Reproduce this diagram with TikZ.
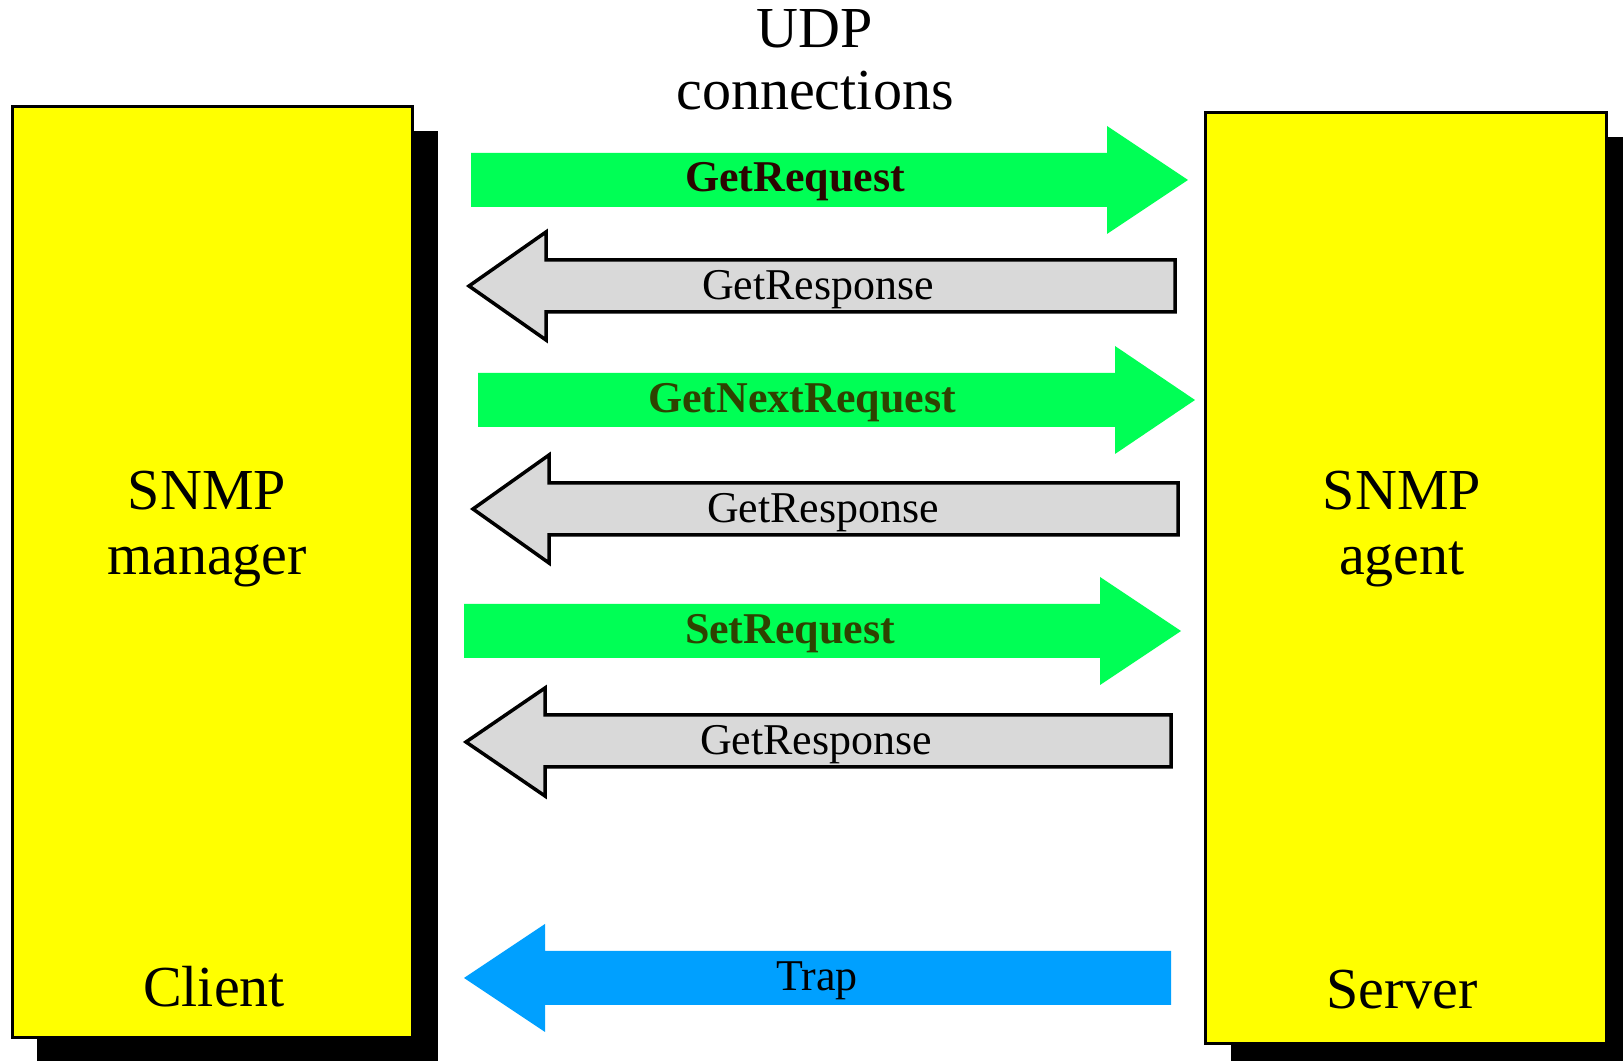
\documentclass[tikz,border=0pt]{standalone}
\usepackage{fontspec}
\setmainfont{Liberation Serif}
\usepackage{xcolor}
\usepackage{tikz}
\usetikzlibrary{positioning,shadows}
\definecolor{hostyellow}{HTML}{FFFF00}
\definecolor{reqgreen}{HTML}{00FF55}
\definecolor{respgray}{HTML}{D9D9D9}
\definecolor{trapblue}{HTML}{00A0FF}
\definecolor{reqtext}{HTML}{2A0500}
\definecolor{nexttext}{HTML}{2E4200}
\tikzstyle{host}=[draw=black, line width=0.03cm, fill=hostyellow, minimum width=4.0cm, minimum height=9.3cm, drop shadow={shadow xshift=0.25cm, shadow yshift=-0.24cm, fill=black, opacity=1}]
\tikzstyle{host text}=[font=\fontsize{16.5}{18.5}\selectfont, align=center]
\tikzstyle{req arrow}=[fill=reqgreen]
\tikzstyle{resp arrow}=[fill=respgray, draw=black, line width=0.035cm, line join=miter]
\tikzstyle{trap arrow}=[fill=trapblue]
\tikzstyle{msg}=[font=\fontsize{12.5}{14}\selectfont, inner sep=0pt, anchor=base]

\begin{document}
\begin{tikzpicture}[x=0.01cm, y=-0.01cm]
    \clip (0,0) rectangle (1623,1061);
    \fill[white] (0,0) rectangle (1623,1061);
    % client and server
    \node[style=host] (manager) at (212.5,572) {};
    \node[style=host] (agent) at (1406,578) {};
    \node[style=host text] (managertext) at (207,529) {SNMP\\manager};
    \node[style=host text, anchor=base] (client) at (214,1007) {Client};
    \node[style=host text] (agenttext) at (1402,529) {SNMP\\agent};
    \node[style=host text, anchor=base] (server) at (1402,1009) {Server};
    \node[style=host text, font=\fontsize{16.5}{17.6}\selectfont] (udp) at (815,60) {UDP\\connections};
    % messages
    \fill[style=req arrow] (471,153) -- (1107,153) -- (1107,126) -- (1188,180) -- (1107,234) -- (1107,207) -- (471,207) -- cycle;
    \filldraw[style=resp arrow] (1175,260) -- (546,260) -- (546,232) -- (469,286) -- (546,340) -- (546,312) -- (1175,312) -- cycle;
    \fill[style=req arrow] (478,373) -- (1115,373) -- (1115,346) -- (1195,400) -- (1115,454) -- (1115,427) -- (478,427) -- cycle;
    \filldraw[style=resp arrow] (1178,483) -- (549,483) -- (549,455) -- (473,509) -- (549,563) -- (549,535) -- (1178,535) -- cycle;
    \fill[style=req arrow] (464,604) -- (1100,604) -- (1100,577) -- (1181,631) -- (1100,685) -- (1100,658) -- (464,658) -- cycle;
    \filldraw[style=resp arrow] (1171,715) -- (545,715) -- (545,688) -- (466,742) -- (545,796) -- (545,767) -- (1171,767) -- cycle;
    \fill[style=trap arrow] (1171,951) -- (545,951) -- (545,924) -- (464,978) -- (545,1032) -- (545,1005) -- (1171,1005) -- cycle;
    \node[style=msg, text=reqtext, font=\fontsize{12.5}{14}\selectfont\bfseries] (getreq) at (795,192) {GetRequest};
    \node[style=msg] (getresp1) at (818,300) {GetResponse};
    \node[style=msg, text=nexttext, font=\fontsize{12.5}{14}\selectfont\bfseries] (getnext) at (802,413) {GetNextRequest};
    \node[style=msg] (getresp2) at (823,523) {GetResponse};
    \node[style=msg, text=nexttext, font=\fontsize{12.5}{14}\selectfont\bfseries] (setreq) at (790,644) {SetRequest};
    \node[style=msg] (getresp3) at (816,755) {GetResponse};
    \node[style=msg] (trap) at (817,991) {Trap};
\end{tikzpicture}
\end{document}
